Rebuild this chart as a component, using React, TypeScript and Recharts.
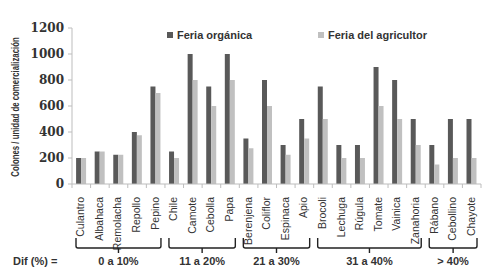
import { Bar, BarChart, XAxis, YAxis } from "recharts";

const categories = [
  "Culantro", "Albahaca", "Remolacha", "Repollo", "Pepino",
  "Chile", "Camote", "Cebolla", "Papa",
  "Berenjena", "Coliflor", "Espinaca", "Apio",
  "Brocoli", "Lechuga", "Rúgula", "Tomate", "Vainica", "Zanahoria",
  "Rábano", "Cebollino", "Chayote",
];
const organica = [
  200, 250, 225, 400, 750,
  250, 1000, 750, 1000,
  350, 800, 300, 500,
  750, 300, 300, 900, 800, 500,
  300, 500, 500,
];
const agricultor = [
  200, 250, 225, 375, 700,
  200, 800, 600, 800,
  275, 600, 225, 350,
  500, 200, 200, 600, 500, 300,
  150, 200, 200,
];
const yTicks = [0, 200, 400, 600, 800, 1000, 1200];
const seriesNames = ["Feria orgánica", "Feria del agricultor"];
const groups = [
  { label: "0 a 10%", from: 0, to: 4 },
  { label: "11 a 20%", from: 5, to: 8 },
  { label: "21 a 30%", from: 9, to: 12 },
  { label: "31 a 40%", from: 13, to: 18 },
  { label: "> 40%", from: 19, to: 21 },
];

const W = 491;
const H = 280;
const PLOT_LEFT = 72;
const PLOT_RIGHT = 481;
const PLOT_TOP = 28;
const PLOT_BOTTOM = 184;
const Y_AXIS_W = 40;
const band = (PLOT_RIGHT - PLOT_LEFT) / categories.length;

const DARK = "#595959";
const LIGHT = "#c0c0c0";
const AXIS = "#bdbdbd";
const TEXT = "#333333";
const FONT = "'Liberation Sans Narrow', 'Liberation Sans', Arial, sans-serif";

const data = categories.map((name, i) => ({
  name,
  organica: organica[i],
  agricultor: agricultor[i],
}));

function XTick(props: any) {
  const { x, y, payload } = props;
  return (
    <text
      x={x + 3}
      y={y + 5}
      transform={`rotate(-90 ${x + 3} ${y + 5})`}
      textAnchor="end"
      fontSize={10.5}
      fontFamily={FONT}
      fill={TEXT}
    >
      {payload.value}
    </text>
  );
}

function Overlay() {
  const boundaries = Array.from({ length: categories.length + 1 }, (_, i) => PLOT_LEFT + i * band);
  const legendX = [167, 318];
  const midY = (PLOT_TOP + PLOT_BOTTOM) / 2 + 1;
  return (
    <svg
      width={W}
      height={H}
      style={{ position: "absolute", left: 0, top: 0, pointerEvents: "none" }}
    >
      {boundaries.map((bx, i) => (
        <line key={i} x1={bx} x2={bx} y1={PLOT_BOTTOM} y2={PLOT_BOTTOM + 4} stroke={AXIS} />
      ))}
      {seriesNames.map((s, i) => (
        <g key={s}>
          <rect x={legendX[i]} y={32} width={6} height={6} fill={i === 0 ? DARK : LIGHT} />
          <text
            x={legendX[i] + 10}
            y={39}
            fontSize={11}
            fontWeight={700}
            fontFamily={FONT}
            fill={TEXT}
          >
            {s}
          </text>
        </g>
      ))}
      <g transform={`translate(16 ${midY}) rotate(-90) scale(0.68 1)`}>
        <text
          x={0}
          y={0}
          textAnchor="middle"
          dominantBaseline="middle"
          fontSize={11.5}
          fontWeight={700}
          fontFamily={FONT}
          fill={TEXT}
        >
          Colones / unidad de comercialización
        </text>
      </g>
      {groups.map((g) => {
        const x1 = PLOT_LEFT + g.from * band + 4;
        const x2 = Math.min(PLOT_LEFT + (g.to + 1) * band - 4, PLOT_RIGHT);
        const cx = (x1 + x2) / 2;
        const top = 238;
        const bot = 248;
        return (
          <g key={g.label}>
            <path
              d={`M${x1},${top} L${x1},${bot - 2} Q${x1},${bot} ${x1 + 2},${bot} L${x2 - 2},${bot} Q${x2},${bot} ${x2},${bot - 2} L${x2},${top} M${cx},${bot} L${cx},${bot + 5}`}
              fill="none"
              stroke="#222"
              strokeWidth={1.4}
            />
            <text
              x={cx}
              y={265}
              textAnchor="middle"
              fontSize={11}
              fontWeight={700}
              fontFamily={FONT}
              fill={TEXT}
            >
              {g.label}
            </text>
          </g>
        );
      })}
      <text x={13} y={265} fontSize={11} fontWeight={700} fontFamily={FONT} fill={TEXT}>
        Dif (%) =
      </text>
    </svg>
  );
}

export default function App() {
  return (
    <div style={{ position: "absolute", left: 0, top: 0, width: W, height: H, background: "#fff" }}>
      <BarChart
        width={W}
        height={H}
        data={data}
        margin={{ top: PLOT_TOP, right: W - PLOT_RIGHT, left: PLOT_LEFT - Y_AXIS_W, bottom: 0 }}
        barCategoryGap="22%"
        barGap={0}
      >
        <XAxis
          dataKey="name"
          interval={0}
          tick={<XTick />}
          tickLine={false}
          axisLine={{ stroke: AXIS }}
          height={H - PLOT_BOTTOM}
        />
        <YAxis
          width={Y_AXIS_W}
          domain={[0, 1200]}
          ticks={yTicks}
          interval={0}
          tickSize={4}
          tickMargin={4}
          tickLine={{ stroke: AXIS }}
          axisLine={{ stroke: AXIS }}
          tick={{ fontSize: 12, fontWeight: 700, fontFamily: "'DejaVu Serif', 'Liberation Serif', serif", fill: TEXT }}
        />
        <Bar dataKey="organica" name={seriesNames[0]} fill={DARK} isAnimationActive={false} />
        <Bar dataKey="agricultor" name={seriesNames[1]} fill={LIGHT} isAnimationActive={false} />
      </BarChart>
      <Overlay />
    </div>
  );
}
